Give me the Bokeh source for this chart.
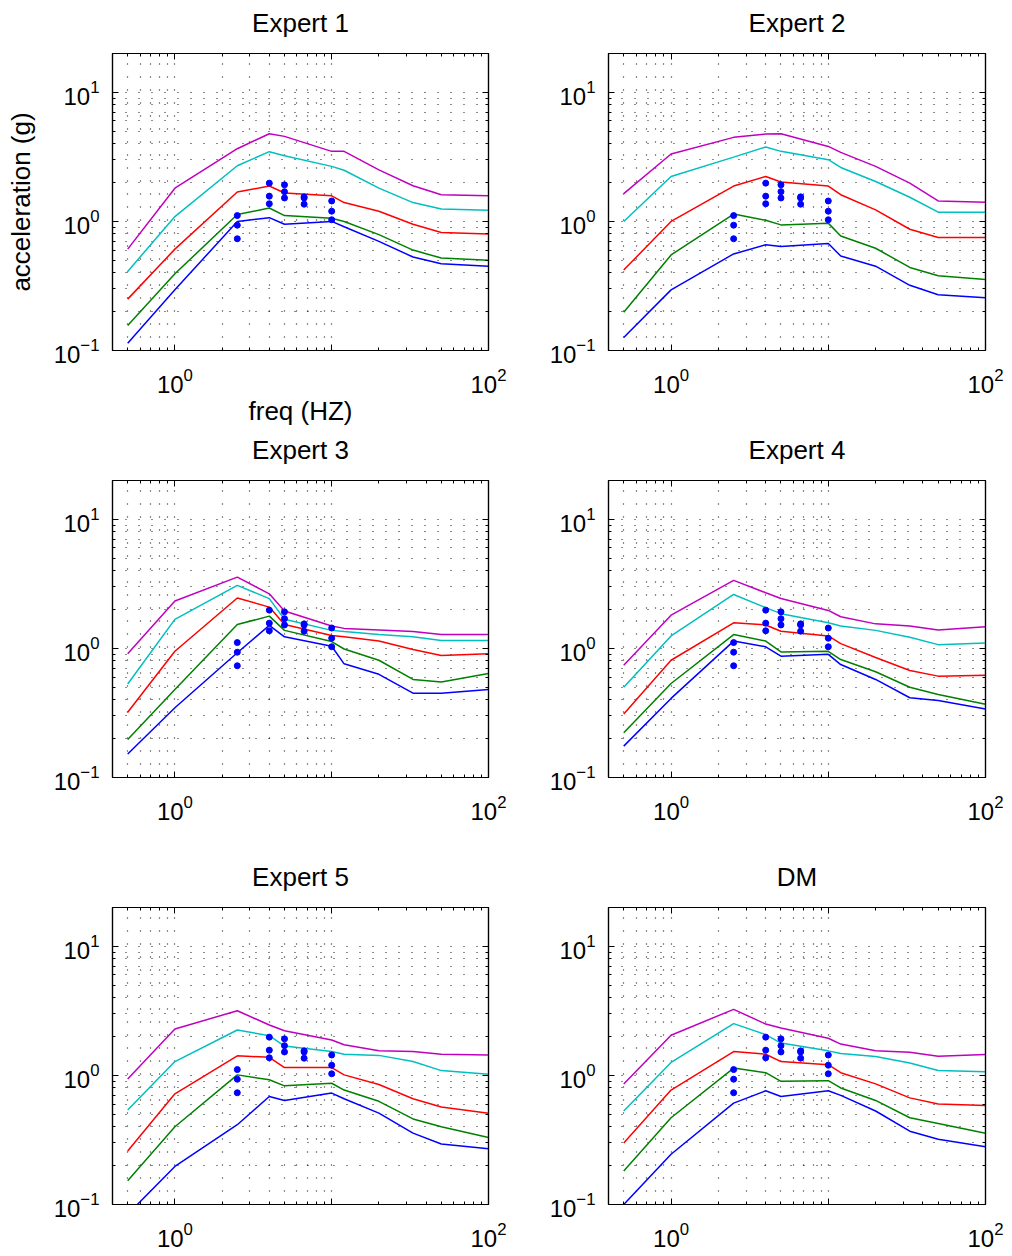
from bokeh.plotting import figure
from bokeh.models import FixedTicker, LogAxis
from bokeh.layouts import column, row
from bokeh.embed import file_html
from bokeh.resources import INLINE

# ---------------- data ----------------
FREQ = [0.5, 1, 2.5, 4, 5, 10, 12, 20, 33, 50, 100]

OBS_FREQ = [2.5, 2.5, 2.5, 4, 4, 4, 5, 5, 5, 6.67, 6.67, 6.67, 10, 10, 10]
OBS_ACC = [1.11, 0.935, 0.734, 1.98, 1.57, 1.37, 1.92, 1.70, 1.52,
           1.55, 1.52, 1.36, 1.44, 1.20, 1.03]

TITLES = ["Expert 1", "Expert 2", "Expert 3", "Expert 4", "Expert 5", "DM"]

# curves per panel: blue (lowest), green, red, cyan, magenta (highest)
E1_BLUE = [0.114, 0.295, 1.0, 1.07, 0.95, 1.0, 0.91, 0.70, 0.53, 0.47, 0.45]
E1_GREEN = [0.156, 0.393, 1.13, 1.27, 1.11, 1.06, 1.0, 0.79, 0.60, 0.52, 0.50]
E1_RED = [0.25, 0.61, 1.69, 1.88, 1.66, 1.58, 1.40, 1.20, 0.95, 0.82, 0.80]
E1_CYAN = [0.41, 1.09, 2.70, 3.47, 3.23, 2.67, 2.49, 1.81, 1.40, 1.25, 1.22]
E1_MAGENTA = [0.61, 1.81, 3.66, 4.78, 4.56, 3.49, 3.49, 2.51, 1.89, 1.61, 1.58]

E2_BLUE = [0.126, 0.295, 0.56, 0.66, 0.64, 0.675, 0.54, 0.45, 0.32, 0.27, 0.256]
E2_GREEN = [0.198, 0.55, 1.14, 1.02, 0.94, 0.97, 0.77, 0.62, 0.44, 0.38, 0.355]
E2_RED = [0.42, 1.0, 1.88, 2.23, 2.02, 1.88, 1.61, 1.23, 0.87, 0.75, 0.75]
E2_CYAN = [1.0, 2.23, 3.15, 3.77, 3.49, 3.01, 2.62, 2.04, 1.54, 1.18, 1.18]
E2_MAGENTA = [1.64, 3.33, 4.48, 4.75, 4.78, 3.81, 3.43, 2.67, 1.98, 1.44, 1.41]

E3_BLUE = [0.152, 0.347, 0.925, 1.51, 1.23, 1.04, 0.76, 0.63, 0.45, 0.45, 0.48]
E3_GREEN = [0.197, 0.48, 1.53, 1.78, 1.38, 1.13, 0.99, 0.81, 0.575, 0.55, 0.64]
E3_RED = [0.32, 0.95, 2.46, 2.09, 1.53, 1.26, 1.23, 1.14, 0.98, 0.88, 0.91]
E3_CYAN = [0.53, 1.68, 3.08, 2.43, 1.68, 1.38, 1.35, 1.28, 1.23, 1.15, 1.15]
E3_MAGENTA = [0.91, 2.33, 3.57, 2.65, 1.95, 1.49, 1.43, 1.39, 1.35, 1.28, 1.28]

E4_BLUE = [0.175, 0.41, 1.14, 1.03, 0.87, 0.90, 0.75, 0.575, 0.415, 0.395, 0.34]
E4_GREEN = [0.222, 0.535, 1.28, 1.14, 0.94, 0.95, 0.82, 0.66, 0.50, 0.44, 0.37]
E4_RED = [0.31, 0.81, 1.58, 1.52, 1.36, 1.25, 1.09, 0.85, 0.675, 0.61, 0.62]
E4_CYAN = [0.50, 1.25, 2.62, 2.07, 1.86, 1.58, 1.49, 1.38, 1.22, 1.07, 1.10]
E4_MAGENTA = [0.74, 1.81, 3.37, 2.70, 2.44, 1.97, 1.76, 1.55, 1.49, 1.39, 1.47]

E5_BLUE = [0.084, 0.197, 0.415, 0.687, 0.64, 0.73, 0.66, 0.51, 0.357, 0.294, 0.27]
E5_GREEN = [0.153, 0.40, 1.01, 0.925, 0.83, 0.87, 0.77, 0.63, 0.46, 0.40, 0.33]
E5_RED = [0.26, 0.72, 1.42, 1.38, 1.15, 1.15, 1.01, 0.85, 0.66, 0.57, 0.51]
E5_CYAN = [0.54, 1.28, 2.25, 2.03, 1.69, 1.53, 1.46, 1.43, 1.28, 1.09, 1.02]
E5_MAGENTA = [0.94, 2.29, 3.17, 2.46, 2.22, 1.88, 1.73, 1.55, 1.53, 1.46, 1.44]

DM_BLUE = [0.10, 0.245, 0.61, 0.76, 0.687, 0.76, 0.70, 0.53, 0.37, 0.32, 0.28]
DM_GREEN = [0.182, 0.47, 1.14, 1.05, 0.90, 0.91, 0.80, 0.64, 0.47, 0.425, 0.357]
DM_RED = [0.30, 0.77, 1.53, 1.46, 1.28, 1.21, 1.05, 0.86, 0.67, 0.60, 0.585]
DM_CYAN = [0.53, 1.26, 2.52, 2.07, 1.78, 1.55, 1.48, 1.40, 1.25, 1.09, 1.07]
DM_MAGENTA = [0.857, 2.05, 3.25, 2.50, 2.33, 1.94, 1.75, 1.55, 1.51, 1.41, 1.45]

PANELS = [
    [E1_BLUE, E1_GREEN, E1_RED, E1_CYAN, E1_MAGENTA],
    [E2_BLUE, E2_GREEN, E2_RED, E2_CYAN, E2_MAGENTA],
    [E3_BLUE, E3_GREEN, E3_RED, E3_CYAN, E3_MAGENTA],
    [E4_BLUE, E4_GREEN, E4_RED, E4_CYAN, E4_MAGENTA],
    [E5_BLUE, E5_GREEN, E5_RED, E5_CYAN, E5_MAGENTA],
    [DM_BLUE, DM_GREEN, DM_RED, DM_CYAN, DM_MAGENTA],
]

COLORS = ["#0000ff", "#008000", "#ff0000", "#00bfbf", "#bf00bf"]

X_MAJOR = [1, 10, 100]
X_MINOR = [0.4, 0.5, 0.6, 0.7, 0.8, 0.9, 2, 3, 4, 5, 6, 7, 8, 9,
           20, 30, 40, 50, 60, 70, 80, 90]
Y_MAJOR = [0.1, 1, 10]
Y_MINOR = [0.2, 0.3, 0.4, 0.5, 0.6, 0.7, 0.8, 0.9, 2, 3, 4, 5, 6, 7, 8, 9, 20]
X_GRID = [0.5, 0.6, 0.7, 0.8, 0.9, 1, 2, 3, 4, 5, 6, 7, 8, 9, 10]
Y_GRID = [0.2, 0.3, 0.4, 0.5, 0.6, 0.7, 0.8, 0.9, 1, 2, 3, 4, 5, 6, 7, 8, 9, 10]

FONT = "Liberation Sans"
FS_TICK = "24px"
FS_TEXT = "26px"

# per-row borders (top, bottom) so frames sit where the original's axes are
ROW_TOP = [53, 48, 53]
ROW_BOTTOM = [82, 77, 52]


def style_axis(ax, labels=True):
    ax.axis_line_color = "black"
    ax.axis_line_width = 1.2
    ax.major_tick_in = 6
    ax.major_tick_out = 0
    ax.minor_tick_in = 3
    ax.minor_tick_out = 0
    ax.major_tick_line_color = "black"
    ax.minor_tick_line_color = "black"
    ax.major_label_text_font = FONT
    ax.major_label_text_font_size = FS_TICK if labels else "0px"
    ax.major_label_text_color = "black"
    ax.axis_label_text_font = FONT
    ax.axis_label_text_font_size = FS_TEXT
    ax.axis_label_text_font_style = "normal"
    ax.axis_label_text_color = "black"


def make_panel(idx):
    col = idx % 2
    rw = idx // 2
    p = figure(
        x_axis_type="log", y_axis_type="log",
        x_range=(0.4, 100), y_range=(0.1, 20),
        frame_width=376 if col == 0 else 377, frame_height=297,
        min_border_left=112 if col == 0 else 70,
        min_border_right=50 if col == 0 else 27,
        min_border_top=ROW_TOP[rw],
        min_border_bottom=ROW_BOTTOM[rw],
        output_backend="svg", toolbar_location=None,
        title=TITLES[idx],
    )
    p.title.align = "center"
    p.title.text_font = FONT
    p.title.text_font_size = FS_TEXT
    p.title.text_font_style = "normal"
    p.title.text_color = "black"
    p.title.standoff = 0

    p.outline_line_color = "black"
    p.outline_line_width = 1.2
    p.background_fill_color = "white"
    p.border_fill_color = "white"

    xb = p.xaxis[0]
    yl = p.yaxis[0]
    xb.ticker = FixedTicker(ticks=X_MAJOR, minor_ticks=X_MINOR)
    yl.ticker = FixedTicker(ticks=Y_MAJOR, minor_ticks=Y_MINOR)
    xb.major_label_overrides = {10: ""}
    xb.major_label_standoff = 17
    yl.major_label_standoff = 13
    style_axis(xb)
    style_axis(yl)

    if idx == 0:
        xb.axis_label = "freq (HZ)"
        xb.axis_label_standoff = 0
        yl.axis_label = "acceleration (g)"
        yl.axis_label_standoff = 15

    # top/right axes: tick marks only (box ticks as in the original);
    # the top one keeps blank labels so it spaces the title off the box
    top = LogAxis(ticker=FixedTicker(ticks=X_MAJOR, minor_ticks=X_MINOR), major_label_standoff=2)
    rgt = LogAxis(ticker=FixedTicker(ticks=Y_MAJOR, minor_ticks=Y_MINOR), major_label_standoff=0)
    style_axis(top, labels=False)
    style_axis(rgt, labels=False)
    top.major_label_text_font_size = "10px"
    top.major_label_text_color = "white"
    top.major_label_overrides = {1: " ", 10: " ", 100: " "}
    rgt.major_label_overrides = {0.1: "", 1: "", 10: ""}
    p.add_layout(top, "above")
    p.add_layout(rgt, "right")

    p.xgrid.ticker = FixedTicker(ticks=X_GRID)
    p.ygrid.ticker = FixedTicker(ticks=Y_GRID)
    for g in (p.xgrid[0], p.ygrid[0]):
        g.grid_line_color = "black"
        g.grid_line_dash = "1 12"
        g.grid_line_width = 1.2
        g.grid_line_alpha = 0.9

    for series, colr in zip(PANELS[idx], COLORS):
        p.line(FREQ, series, line_color=colr, line_width=1.5)
    p.scatter(OBS_FREQ, OBS_ACC, size=6, fill_color="#0000ff", line_color="#0000ff")
    return p


figs = [make_panel(i) for i in range(6)]
layout = column(
    row(figs[0], figs[1], spacing=0),
    row(figs[2], figs[3], spacing=0),
    row(figs[4], figs[5], spacing=0),
    spacing=0,
)

open("out.html", "w").write(file_html(layout, INLINE))
